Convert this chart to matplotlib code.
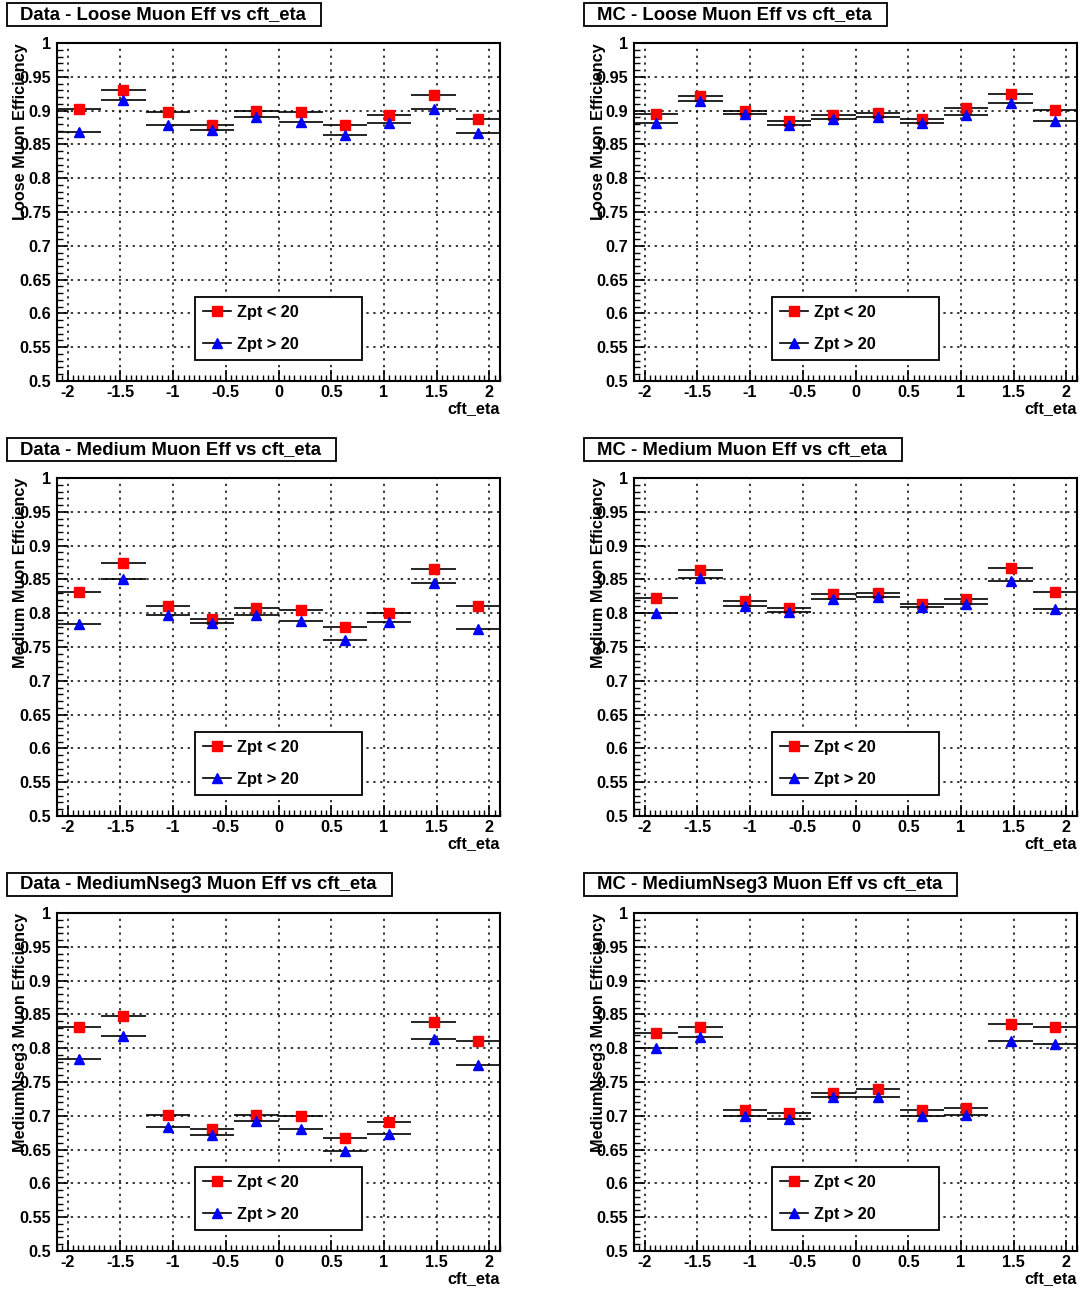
import numpy as np
import matplotlib
matplotlib.use('Agg')
import matplotlib.pyplot as plt
from matplotlib.lines import Line2D
from matplotlib.patches import Rectangle
from matplotlib.ticker import MultipleLocator, FormatStrFormatter

plt.rcParams['font.family'] = ['Liberation Sans', 'DejaVu Sans']
plt.rcParams['font.weight'] = 'bold'

# eta bins: 10 bins from -2.1 to 2.1
eta_edges = np.linspace(-2.1, 2.1, 11)
eta_centers = 0.5 * (eta_edges[:-1] + eta_edges[1:])
eta_halfwidth = 0.5 * (eta_edges[1:] - eta_edges[:-1])

titles = ['Data - Loose Muon Eff vs cft_eta', 'MC - Loose Muon Eff vs cft_eta',
          'Data - Medium Muon Eff vs cft_eta', 'MC - Medium Muon Eff vs cft_eta',
          'Data - MediumNseg3 Muon Eff vs cft_eta', 'MC - MediumNseg3 Muon Eff vs cft_eta']
ylabels = ['Loose Muon Efficiency', 'Loose Muon Efficiency',
           'Medium Muon Efficiency', 'Medium Muon Efficiency',
           'MediumNseg3 Muon Efficiency', 'MediumNseg3 Muon Efficiency']
legend_labels = ['Zpt < 20', 'Zpt > 20']

# Zpt < 20 (red squares)
data_loose_low = [0.902, 0.931, 0.898, 0.878, 0.899, 0.898, 0.878, 0.894, 0.923, 0.888]
mc_loose_low = [0.895, 0.922, 0.900, 0.884, 0.894, 0.896, 0.888, 0.904, 0.924, 0.901]
data_medium_low = [0.832, 0.875, 0.810, 0.792, 0.808, 0.805, 0.780, 0.800, 0.866, 0.811]
mc_medium_low = [0.823, 0.864, 0.818, 0.808, 0.828, 0.830, 0.814, 0.821, 0.867, 0.831]
data_nseg3_low = [0.831, 0.848, 0.701, 0.680, 0.701, 0.700, 0.667, 0.691, 0.839, 0.811]
mc_nseg3_low = [0.823, 0.831, 0.708, 0.704, 0.734, 0.739, 0.709, 0.711, 0.836, 0.831]

# Zpt > 20 (blue triangles)
data_loose_high = [0.868, 0.916, 0.879, 0.871, 0.890, 0.883, 0.864, 0.882, 0.903, 0.867]
mc_loose_high = [0.882, 0.914, 0.895, 0.878, 0.887, 0.890, 0.882, 0.894, 0.911, 0.885]
data_medium_high = [0.784, 0.851, 0.797, 0.785, 0.798, 0.789, 0.761, 0.787, 0.845, 0.776]
mc_medium_high = [0.800, 0.852, 0.811, 0.802, 0.821, 0.824, 0.809, 0.813, 0.848, 0.806]
data_nseg3_high = [0.784, 0.818, 0.684, 0.672, 0.693, 0.681, 0.648, 0.673, 0.813, 0.775]
mc_nseg3_high = [0.800, 0.817, 0.699, 0.695, 0.728, 0.728, 0.700, 0.701, 0.810, 0.806]

# statistical errors (small, mostly hidden by markers)
data_err_low = [0.004, 0.003, 0.003, 0.003, 0.003, 0.003, 0.003, 0.003, 0.003, 0.004]
data_err_high = [0.006, 0.004, 0.003, 0.003, 0.003, 0.003, 0.003, 0.003, 0.004, 0.006]
mc_err_low = [0.002, 0.002, 0.002, 0.002, 0.002, 0.002, 0.002, 0.002, 0.002, 0.002]
mc_err_high = [0.002, 0.002, 0.002, 0.002, 0.002, 0.002, 0.002, 0.002, 0.002, 0.002]

low_series = [data_loose_low, mc_loose_low, data_medium_low, mc_medium_low, data_nseg3_low, mc_nseg3_low]
high_series = [data_loose_high, mc_loose_high, data_medium_high, mc_medium_high, data_nseg3_high, mc_nseg3_high]

W, H = 1083, 1289
fig = plt.figure(figsize=(W / 100, H / 100), dpi=100, facecolor='white')

col_left = [57, 634]
row_top = [43, 478, 913]
ax_w, ax_h = 443, 338
FS = 11.7


def px_rect(x0, y0, w, h):
    # pixel box (from top-left) -> figure fraction
    return [x0 / W, 1 - (y0 + h) / H, w / W, h / H]


axes = []
for i in range(6):
    r, c = divmod(i, 2)
    x0, y0 = col_left[c], row_top[r]
    ax = fig.add_axes(px_rect(x0, y0, ax_w, ax_h))
    axes.append(ax)

    ax.errorbar(eta_centers, low_series[i], xerr=eta_halfwidth,
                yerr=(data_err_low if c == 0 else mc_err_low),
                fmt='s', ms=7.4, mfc='red', mec='red', ecolor='black',
                elinewidth=1.2, capsize=0, zorder=3)
    ax.errorbar(eta_centers, high_series[i], xerr=eta_halfwidth,
                yerr=(data_err_high if c == 0 else mc_err_high),
                fmt='^', ms=7.4, mfc='blue', mec='blue', ecolor='black',
                elinewidth=1.2, capsize=0, zorder=4)

    ax.set_xlim(-2.1, 2.1)
    ax.set_ylim(0.5, 1.0)
    ax.xaxis.set_major_locator(MultipleLocator(0.5))
    ax.xaxis.set_minor_locator(MultipleLocator(0.05))
    ax.yaxis.set_major_locator(MultipleLocator(0.05))
    ax.yaxis.set_minor_locator(MultipleLocator(0.01))
    ax.xaxis.set_major_formatter(FormatStrFormatter('%g'))
    ax.yaxis.set_major_formatter(FormatStrFormatter('%g'))
    ax.tick_params(which='major', direction='in', length=8, width=1.2,
                   labelsize=FS, top=False, right=False, pad=4)
    ax.tick_params(which='minor', direction='in', length=4.3, width=1.0,
                   top=False, right=False)
    ax.tick_params(axis='x', which='major', pad=3)
    for sp in ax.spines.values():
        sp.set_linewidth(1.5)
    ax.grid(True, which='major', color='black', linestyle=(0, (1.5, 3)), linewidth=1.1)
    ax.set_axisbelow(True)

    ax.text(-36 / ax_w, 1.0, ylabels[i], transform=ax.transAxes, rotation=90,
            ha='center', va='top', fontsize=FS)
    ax.text(1.0, -28 / ax_h, 'cft_eta', transform=ax.transAxes,
            ha='right', va='center', fontsize=FS)

    handles = [Line2D([], [], color='black', lw=1.2, marker='s', ms=7.4, mfc='red', mec='red'),
               Line2D([], [], color='black', lw=1.2, marker='^', ms=7.4, mfc='blue', mec='blue')]
    leg = ax.legend(handles, legend_labels, loc='upper left',
                    bbox_to_anchor=(138 / ax_w, 21 / ax_h, 167 / ax_w, 63 / ax_h),
                    mode='expand', borderaxespad=0, fontsize=FS, frameon=True,
                    fancybox=False, framealpha=1, edgecolor='black',
                    handlelength=1.72, handletextpad=0.37, borderpad=0.5,
                    labelspacing=1.02)
    leg.get_frame().set_linewidth(1.3)
    leg.set_zorder(10)

    # title box
    t = fig.text((x0 - 37) / W, 1 - (y0 - 28.5) / H, titles[i], ha='left', va='center',
                 fontsize=13.3, zorder=5)

fig.canvas.draw()
renderer = fig.canvas.get_renderer()
for i, t in enumerate(fig.texts):
    r, c = divmod(i, 2)
    x0, y0 = col_left[c], row_top[r]
    ext = t.get_window_extent(renderer)
    bx0 = x0 - 50
    bx1 = ext.x1 + 15
    box = Rectangle((bx0 / W, 1 - (y0 - 17) / H), (bx1 - bx0) / W, 23 / H,
                    transform=fig.transFigure, facecolor='white', edgecolor='black',
                    linewidth=1.3, zorder=1)
    fig.add_artist(box)

fig.savefig('out.png', dpi=100, facecolor='white')
